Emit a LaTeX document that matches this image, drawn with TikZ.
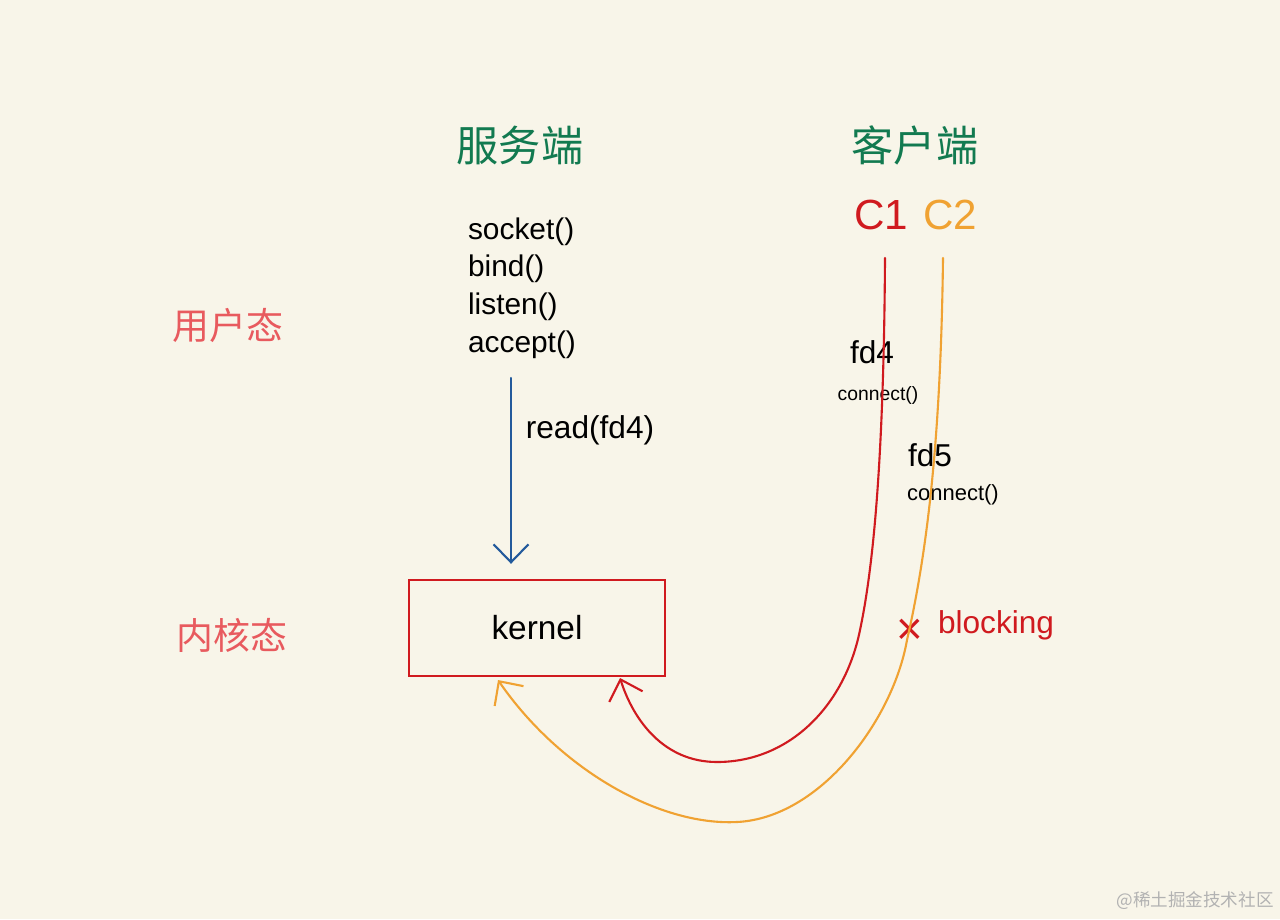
\documentclass[tikz,border=0pt]{standalone}
\usepackage{fontspec}
\setmainfont{Liberation Sans}
\newfontfamily\cjk{Noto Sans CJK SC}
\usetikzlibrary{arrows.meta}

\definecolor{paper}{RGB}{248,245,233}
\definecolor{titlegreen}{RGB}{18,122,80}
\definecolor{statered}{RGB}{232,90,94}
\definecolor{boxred}{RGB}{208,26,31}
\definecolor{ctwoorange}{RGB}{240,162,50}
\definecolor{readblue}{RGB}{35,90,156}
\definecolor{markgray}{RGB}{178,178,178}

\begin{document}
\begin{tikzpicture}[x=0.02cm, y=-0.02cm,
	hand/.style = {line width = 1.2pt, line cap = round},
	barb/.style = {-{Straight Barb[length = 3.6mm, width = 7mm]}}]

\fill[paper] (0,0) rectangle (1280,919);
\useasboundingbox (0,0) rectangle (1280,919);

% Titles
\begin{scope}[
		every node/.style = {text = titlegreen,
		font = \cjk\fontsize{24}{28}\selectfont}]
	\node (server) at (520,145) {服务端};
	\node (client) at (915,145) {客户端};
\end{scope}

% States
\begin{scope}[
		every node/.style = {text = statered,
		font = \cjk\fontsize{21}{25}\selectfont}]
	\node (user) at (228,325) {用户态};
	\node (kstate) at (232,635) {内核态};
\end{scope}

% Clients
\node[text = boxred, font = \fontsize{24}{28}\selectfont] (C1) at (881,215) {C1};
\node[text = ctwoorange, font = \fontsize{24}{28}\selectfont] (C2) at (950,215) {C2};

% Server calls and kernel
\node[align = left, font = \fontsize{17}{21.5}\selectfont] (calls) at (522,288)
	{socket()\\bind()\\listen()\\accept()};
\node[draw = boxred, line width = 1.4pt, minimum width = 5.12cm,
	minimum height = 1.92cm, font = \fontsize{19}{23}\selectfont] (kernel) at (537,628) {kernel};

% Labels
\node[font = \fontsize{18}{22}\selectfont] (read) at (590,430) {read(fd4)};
\node[font = \fontsize{18}{22}\selectfont] (fdfour) at (872,352) {fd4};
\node[font = \fontsize{11}{13}\selectfont] (conone) at (878,395) {connect()};
\node[font = \fontsize{18}{22}\selectfont] (fdfive) at (930,455) {fd5};
\node[font = \fontsize{12.5}{15}\selectfont] (contwo) at (953,495) {connect()};
\node[text = boxred, font = \fontsize{26}{30}\selectfont] (cross) at (910,632) {×};
\node[text = boxred, font = \fontsize{18}{22}\selectfont] (blocking) at (996,625) {blocking};
\node[text = markgray, font = \cjk\fontsize{10}{12}\selectfont] (mark) at (1195,901) {@稀土掘金技术社区};

% Paths
\coordinate (readtop) at (511,378);
\coordinate (conetop) at (885,258);
\coordinate (conend) at (620,678);
\coordinate (ctwotop) at (943,258);
\coordinate (ctwoend) at (498,680);

\draw[hand, barb, readblue] (readtop) -- ([yshift = 0.3cm]readtop |- kernel.north);
\draw[hand, barb, boxred] (conetop) .. controls (884,420) and (877,550) .. (860,630)
	.. controls (845,705) and (790,762) .. (717,762)
	.. controls (665,762) and (634,722) .. (conend);
\draw[hand, barb, ctwoorange] (ctwotop) .. controls (941,420) and (930,540) .. (907,640)
	.. controls (893,720) and (820,818) .. (737,822)
	.. controls (660,826) and (560,770) .. (ctwoend);
\end{tikzpicture}
\end{document}
